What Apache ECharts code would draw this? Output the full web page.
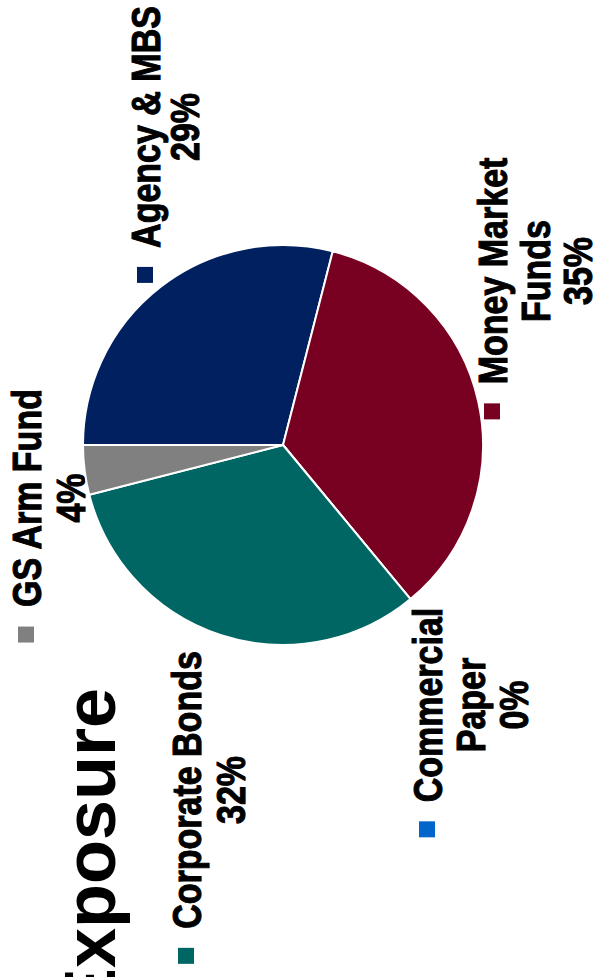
<!DOCTYPE html>
<html>
<head>
<meta charset="utf-8">
<title>Exposure</title>
<script src="https://cdn.jsdelivr.net/npm/echarts@6/dist/echarts.min.js"></script>
<style>
  html, body { margin: 0; padding: 0; background: #ffffff; overflow: hidden; }
  body { width: 593px; height: 977px; position: relative; }
  /* The chart is laid out landscape and turned a quarter-turn so it reads bottom to top */
  #chart {
    position: absolute; left: 0; top: 977px;
    width: 977px; height: 593px;
    transform-origin: 0 0;
    transform: rotate(-90deg);
  }
</style>
</head>
<body>
<div id="chart"></div>
<script>
// Portfolio exposure by asset type (percent of total)
const categories = ['Agency & MBS', 'Money Market\nFunds', 'Commercial\nPaper', 'Corporate Bonds', 'GS Arm Fund'];
const shares = [29, 35, 0, 32, 4];
const sliceColors = ['#002060', '#780020', '#0066cc', '#006663', '#808080'];
const titleText = 'Exposure';

// Label placement: [centre of the text, centre of its first line, line step]
const labelAnchors = [[850, 147, 39], [706, 494, 42.5], [272, 429, 43], [187, 188, 43.5], [479, 28, 43.5]];

const KEY = 16, KEY_GAP = 19;
const LABEL_FONT = "bold 34px 'Liberation Sans', Arial, sans-serif";
const STRETCH = 1.17;   // tall, condensed lettering of the labels

const measure = document.createElement('canvas').getContext('2d');
measure.font = LABEL_FONT;

const chart = echarts.init(document.getElementById('chart'), null, { renderer: 'svg', width: 977, height: 593 });

const graphics = [{
  type: 'text',
  x: 289, y: 90,
  style: {
    text: titleText,
    font: "bold 72px 'Liberation Sans', Arial, sans-serif",
    fill: '#000',
    align: 'right',
    verticalAlign: 'middle'
  }
}];

categories.forEach((name, i) => {
  const a = labelAnchors[i];
  const lines = name.split('\n').concat([shares[i] + '%']);
  const firstWidth = measure.measureText(lines[0]).width;
  // legend key to the left of the first line
  graphics.push({
    type: 'rect',
    shape: { x: a[0] - firstWidth / 2 - KEY_GAP - KEY, y: a[1] - 2 - KEY / 2, width: KEY, height: KEY },
    style: { fill: sliceColors[i] }
  });
  graphics.push({
    type: 'group',
    x: a[0], y: a[1],
    scaleY: STRETCH,
    children: lines.map((ln, j) => ({
      type: 'text',
      y: j * a[2] / STRETCH,
      style: {
        text: ln, font: LABEL_FONT, fill: '#000',
        stroke: '#000', lineWidth: 0.9,
        align: 'center', verticalAlign: 'middle'
      }
    }))
  });
});

const data = categories.map((name, i) => ({
  name: name.replace('\n', ' '),
  value: shares[i],
  itemStyle: { color: sliceColors[i] }
}));

chart.setOption({
  animation: false,
  graphic: graphics,
  series: [{
    type: 'pie',
    center: [532, 283],
    radius: 200,
    startAngle: 90,
    clockwise: true,
    itemStyle: { borderColor: '#ffffff', borderWidth: 2 },
    label: { show: false },
    labelLine: { show: false },
    data: data
  }]
});
</script>
</body>
</html>
